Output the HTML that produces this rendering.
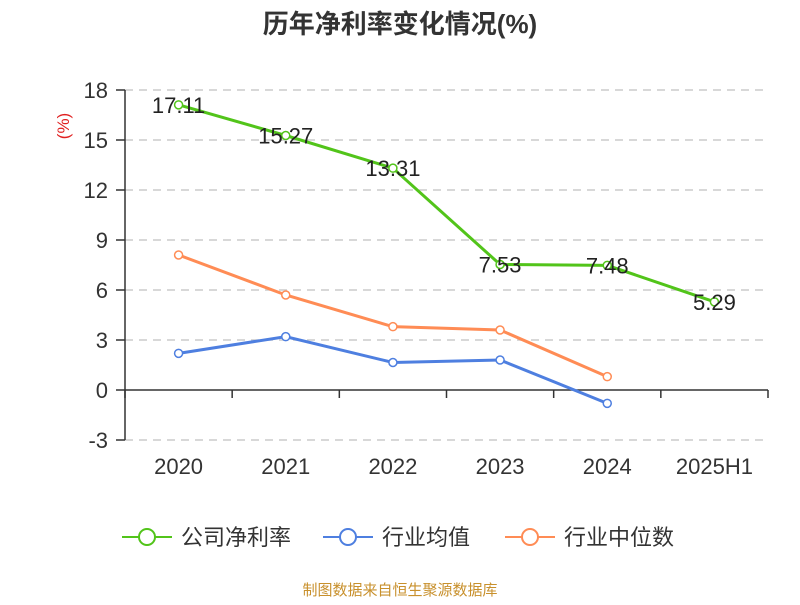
<!DOCTYPE html>
<html><head><meta charset="utf-8"><style>
body{margin:0;background:#fff;}
svg text{font-family:"Liberation Sans","Noto Sans CJK SC",sans-serif;}
</style></head><body>
<svg id="c" width="800" height="600" xmlns="http://www.w3.org/2000/svg">
<text x="400" y="33" text-anchor="middle" font-size="26" font-weight="bold" fill="#333">历年净利率变化情况(%)</text>
<text transform="translate(69,126) rotate(-90)" text-anchor="middle" font-size="17" fill="#e02020">(%)</text>
<g id="grid"></g><g id="axes"></g><g id="series"></g>
<g>
<g><line x1="122" y1="537" x2="172" y2="537" stroke="#52c41a" stroke-width="2"/><circle cx="147" cy="537" r="8" fill="#fff" stroke="#52c41a" stroke-width="2"/><text x="181" y="545" font-size="22" fill="#333">公司净利率</text></g>
<g><line x1="323" y1="537" x2="373" y2="537" stroke="#4e7fe0" stroke-width="2"/><circle cx="348" cy="537" r="8" fill="#fff" stroke="#4e7fe0" stroke-width="2"/><text x="382" y="545" font-size="22" fill="#333">行业均值</text></g>
<g><line x1="505" y1="537" x2="555" y2="537" stroke="#ff8c55" stroke-width="2"/><circle cx="530" cy="537" r="8" fill="#fff" stroke="#ff8c55" stroke-width="2"/><text x="564" y="545" font-size="22" fill="#333">行业中位数</text></g>
</g>
<text x="400" y="595" text-anchor="middle" font-size="15" fill="#c8902c">制图数据来自恒生聚源数据库</text>
</svg>
<script>
const categories=["2020","2021","2022","2023","2024","2025H1"];
const company=[17.11,15.27,13.31,7.53,7.48,5.29];
const industryAvg=[2.2,3.2,1.65,1.8,-0.8];
const industryMedian=[8.1,5.7,3.8,3.6,0.8];
const yTicks=[-3,0,3,6,9,12,15,18];
const NS="http://www.w3.org/2000/svg";
const x0=125,x1=768,band=(x1-x0)/6;
const X=i=>x0+band*(i+0.5);
const Y=v=>390-(v)*350/21;
function mk(t,a,p){const e=document.createElementNS(NS,t);for(const k in a)e.setAttribute(k,a[k]);p.appendChild(e);return e;}
const grid=document.getElementById('grid'),axes=document.getElementById('axes'),ser=document.getElementById('series');
yTicks.forEach(v=>{
 if(v!==0){const l=mk('line',{x1:x0,x2:x1,y1:Y(v),y2:Y(v),stroke:'#ccc','stroke-dasharray':'8,6','stroke-width':1.5},grid);
 
 }
 const tk=mk('line',{x1:116,x2:x0,y1:Y(v),y2:Y(v),stroke:'#333','stroke-width':1.5},axes);
 
 
 const t=mk('text',{x:108,y:Y(v)+8,'text-anchor':'end','font-size':22,fill:'#333'},axes);t.textContent=v;
 
 
});
const ya=mk('line',{x1:x0,x2:x0,y1:Y(18),y2:Y(-3),stroke:'#333','stroke-width':1.5},axes);


const xa=mk('line',{x1:x0,x2:x1,y1:Y(0),y2:Y(0),stroke:'#333','stroke-width':1.5},axes);


for(let i=0;i<=6;i++){const tk=mk('line',{x1:x0+band*i,x2:x0+band*i,y1:Y(0),y2:Y(0)+8,stroke:'#333','stroke-width':1.5},axes);
 
 }
categories.forEach((c,i)=>{const t=mk('text',{x:X(i),y:474,'text-anchor':'middle','font-size':22,fill:'#333'},axes);t.textContent=c;
 
 });
function draw(data,color,name,labels){
 const g=mk('g',{},ser);
 
 
 const p=mk('polyline',{points:data.map((v,i)=>X(i)+','+Y(v)).join(' '),fill:'none',stroke:color,'stroke-width':3},g);
 
 
 data.forEach((v,i)=>{const c=mk('circle',{cx:X(i),cy:Y(v),r:4,fill:'#fff',stroke:color,'stroke-width':1.5},g);
  
  
  if(labels){const t=mk('text',{x:X(i),y:Y(v)+8,'text-anchor':'middle','font-size':22,fill:'#222'},g);t.textContent=v.toFixed(2);
  
  }
 });
}
draw(industryMedian,'#ff8c55','industry-median-series',false);
draw(industryAvg,'#4e7fe0','industry-avg-series',false);
draw(company,'#52c41a','company-series',true);
</script>
</body></html>
